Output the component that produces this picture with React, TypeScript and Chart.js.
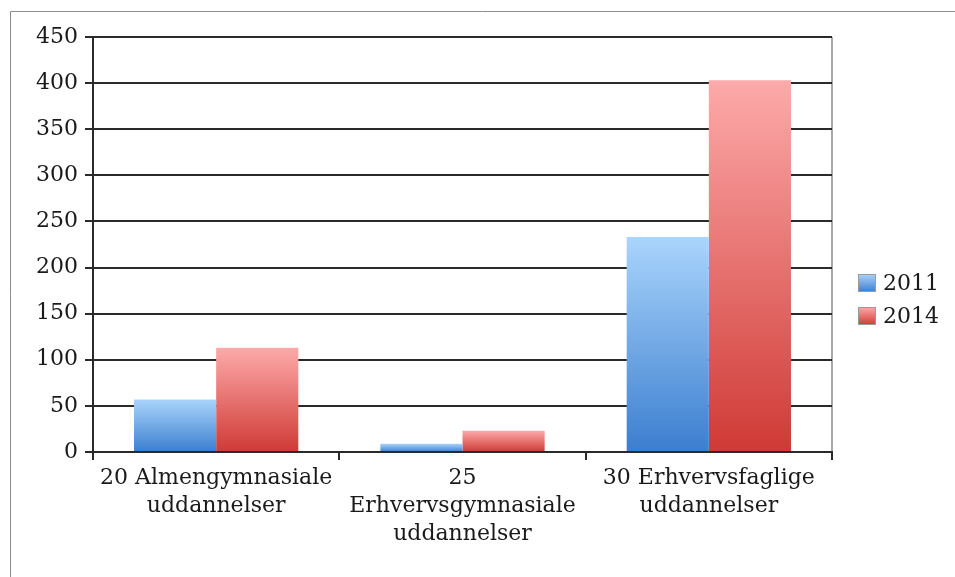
import React, { useEffect, useRef } from 'react';
import { Chart, registerables } from 'chart.js';

Chart.register(...registerables);

// ---- data ----
const categories: string[][] = [
  ['20 Almengymnasiale', 'uddannelser'],
  ['25', 'Erhvervsgymnasiale', 'uddannelser'],
  ['30 Erhvervsfaglige', 'uddannelser'],
];
const seriesNames = ['2011', '2014'];
const values2011 = [57, 9, 233];
const values2014 = [113, 23, 403];
const yMin = 0;
const yMax = 450;
const yStep = 50;

// ---- styles ----
const FONT = "'DejaVu Serif', serif";
const TEXT = '#1a1a1a';
const LINE = '#2a2a2a';
const BLUE_TOP = '#aad5fc';
const BLUE_BOTTOM = '#3b7ecf';
const RED_TOP = '#fdaaaa';
const RED_BOTTOM = '#cf3a35';

function barGradient(top: string, bottom: string) {
  return (ctx: any) => {
    const chart = ctx.chart;
    const y = chart.scales && chart.scales.y;
    if (!chart.chartArea || !y || ctx.type !== 'data') return bottom;
    const v = ctx.raw as number;
    const yTop = y.getPixelForValue(v);
    const yBot = y.getPixelForValue(0);
    if (!(yBot > yTop)) return bottom;
    const g = chart.ctx.createLinearGradient(0, yTop, 0, yBot);
    g.addColorStop(0, top);
    g.addColorStop(1, bottom);
    return g;
  };
}

const framePlugin = {
  id: 'frame',
  beforeDraw(chart: any) {
    const c = chart.ctx as CanvasRenderingContext2D;
    const a = chart.chartArea;
    c.save();
    // outer frame (left + top)
    c.strokeStyle = '#8c8c8c';
    c.lineWidth = 1;
    c.beginPath();
    c.moveTo(10.5, 577);
    c.lineTo(10.5, 11.5);
    c.lineTo(955, 11.5);
    c.stroke();
    // right border of plot
    c.strokeStyle = '#a8a8a8';
    c.lineWidth = 2;
    c.beginPath();
    c.moveTo(a.right, a.top);
    c.lineTo(a.right, a.bottom);
    c.stroke();
    c.restore();
  },
};

const legendTops = [BLUE_TOP, RED_TOP];
const legendBottoms = [BLUE_BOTTOM, RED_BOTTOM];

const sideLegendPlugin = {
  id: 'sideLegend',
  afterDraw(chart: any) {
    const c = chart.ctx as CanvasRenderingContext2D;
    c.save();
    chart.data.datasets.forEach((ds: any, i: number) => {
      const s = 18;
      const bx = 858;
      const by = 274 + i * 33;
      const g = c.createLinearGradient(0, by, 0, by + s);
      g.addColorStop(0, legendTops[i]);
      g.addColorStop(1, legendBottoms[i]);
      c.fillStyle = g;
      c.fillRect(bx, by, s, s);
      c.strokeStyle = '#9a9a9a';
      c.lineWidth = 1;
      c.strokeRect(bx + 0.5, by + 0.5, s - 1, s - 1);
      c.fillStyle = TEXT;
      c.font = `22px ${FONT}`;
      c.textBaseline = 'middle';
      c.textAlign = 'left';
      c.fillText(ds.label, 883, by + s / 2 + 1);
    });
    c.restore();
  },
};

export default function App() {
  const ref = useRef<HTMLCanvasElement | null>(null);

  useEffect(() => {
    if (!ref.current) return;
    const chart = new Chart(ref.current, {
      type: 'bar',
      data: {
        labels: categories as any,
        datasets: [
          {
            label: seriesNames[0],
            data: values2011,
            backgroundColor: barGradient(BLUE_TOP, BLUE_BOTTOM),
            borderWidth: 0,
            categoryPercentage: 0.667,
            barPercentage: 1,
          },
          {
            label: seriesNames[1],
            data: values2014,
            backgroundColor: barGradient(RED_TOP, RED_BOTTOM),
            borderWidth: 0,
            categoryPercentage: 0.667,
            barPercentage: 1,
          },
        ],
      },
      options: {
        animation: false,
        responsive: false,
        maintainAspectRatio: false,
        layout: { padding: { left: 0, top: 37, right: 123, bottom: 0 } },
        plugins: {
          legend: { display: false },
          tooltip: { enabled: false },
        },
        scales: {
          x: {
            grid: {
              offset: true,
              drawOnChartArea: false,
              drawTicks: true,
              tickLength: 8,
              color: LINE,
              lineWidth: 2,
            },
            border: { display: true, color: LINE, width: 2 },
            ticks: {
              color: TEXT,
              font: { family: FONT, size: 22, lineHeight: 1.27 },
              padding: 4,
              maxRotation: 0,
              minRotation: 0,
              autoSkip: false,
            },
            afterFit: (s: any) => {
              s.height = 125;
            },
          },
          y: {
            min: yMin,
            max: yMax,
            ticks: {
              stepSize: yStep,
              color: TEXT,
              font: { family: FONT, size: 22 },
              padding: 7,
            },
            grid: { color: LINE, lineWidth: 2, tickLength: 8 },
            border: { display: true, color: LINE, width: 2 },
            afterFit: (s: any) => {
              s.width = 93;
            },
          },
        },
      },
      plugins: [framePlugin, sideLegendPlugin],
    });
    return () => chart.destroy();
  }, []);

  return (
    <div style={{ position: 'fixed', left: 0, top: 0, width: 955, height: 577, background: '#fff' }}>
      <canvas ref={ref} width={955} height={577} style={{ display: 'block' }} />
    </div>
  );
}
